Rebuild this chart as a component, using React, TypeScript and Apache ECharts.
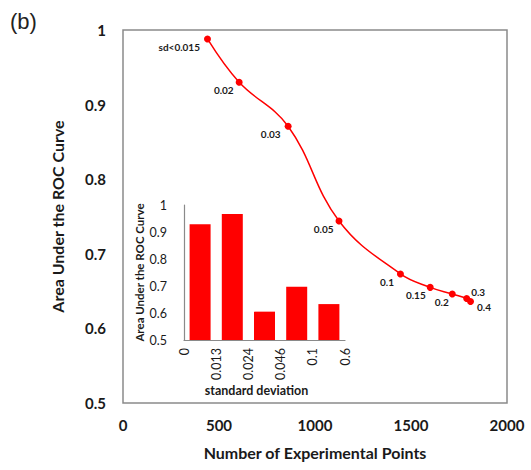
import React, { useEffect, useRef } from "react";
import * as echarts from "echarts";

// Main chart: number of experimental points vs AUC
const pointsX = [440, 605, 860, 1125, 1445, 1600, 1715, 1790, 1810];
const aucValues = [0.988, 0.930, 0.871, 0.744, 0.673, 0.655, 0.646, 0.640, 0.636];
const pointLabels = ["sd<0.015", "0.02", "0.03", "0.05", "0.1", "0.15", "0.2", "0.3", "0.4"];

// Inset: AUC by standard deviation range
const insetTickLabels = ["0", "0.013", "0.024", "0.046", "0.1", "0.6"];
const insetBarValues = [0.929, 0.967, 0.605, 0.697, 0.633];

const FONT = "Lato";
const TEXT = "#1a1a1a";
const AXIS = "#8a8a8a";

export default function App() {
  const ref = useRef<HTMLDivElement>(null);
  useEffect(() => {
    if (!ref.current) return;
    const chart = echarts.init(ref.current, undefined, { renderer: "svg" });

    const lineData = pointsX.map((x, i) => {
      let label: any;
      if (i === pointsX.length - 2) {
        label = { position: "right", distance: 1, offset: [0, -7] };
      } else if (i === pointsX.length - 1) {
        label = { position: "right", distance: 3, offset: [0, 5] };
      } else {
        const dist = [4, 2, 4, 2, 3, 1, 0][i];
        label = { position: "left", distance: dist, offset: [0, 8] };
      }
      return {
        value: [x, aucValues[i]],
        label: { show: true, formatter: pointLabels[i], ...label },
      };
    });

    const barData = insetBarValues.map((v, i) => [i + 0.5, v]);

    chart.setOption({
      animation: false,
      backgroundColor: "#ffffff",
      textStyle: { fontFamily: FONT },
      graphic: [
        {
          type: "text",
          left: 10,
          top: 10,
          style: {
            text: "(b)",
            fontFamily: "Liberation Sans",
            fontSize: 22,
            fill: "#222",
          },
        },
      ],
      grid: [
        {
          left: 123,
          right: 24,
          top: 30,
          bottom: 67,
          show: true,
          borderColor: AXIS,
          borderWidth: 1.5,
          backgroundColor: "transparent",
        },
        { left: 184, right: 186, top: 205, bottom: 130 },
      ],
      xAxis: [
        {
          gridIndex: 0,
          type: "value",
          min: 0,
          max: 2000,
          interval: 500,
          axisLine: { show: false },
          axisTick: { show: false },
          splitLine: { show: false },
          axisLabel: {
            margin: 14,
            fontSize: 15,
            fontWeight: "bold",
            color: TEXT,
            fontFamily: FONT,
            formatter: (v: number) => String(v),
          },
          name: "Number of Experimental Points",
          nameLocation: "middle",
          nameGap: 41,
          nameTextStyle: { fontSize: 16, fontWeight: "bold", color: TEXT, fontFamily: FONT },
        },
        {
          gridIndex: 1,
          type: "value",
          min: 0,
          max: 5,
          interval: 1,
          axisLine: { show: true, lineStyle: { color: AXIS, width: 1.2 } },
          axisTick: { show: false },
          splitLine: { show: false },
          axisLabel: {
            rotate: 90,
            margin: 8,
            fontSize: 12.5,
            color: TEXT,
            fontFamily: FONT,
            formatter: (v: number) => insetTickLabels[Math.round(v)] ?? "",
          },
          name: "standard deviation",
          nameLocation: "middle",
          nameGap: 42,
          nameTextStyle: {
            fontSize: 12.5,
            fontWeight: "bold",
            color: TEXT,
            fontFamily: FONT,
            padding: [0, 16, 0, 0],
          },
        },
      ],
      yAxis: [
        {
          gridIndex: 0,
          type: "value",
          min: 0.5,
          max: 1,
          interval: 0.1,
          axisLine: { show: false },
          axisTick: { show: false },
          splitLine: { show: false },
          axisLabel: {
            margin: 17,
            fontSize: 15,
            fontWeight: "bold",
            color: TEXT,
            fontFamily: FONT,
          },
          name: "Area Under the ROC Curve",
          nameLocation: "middle",
          nameGap: 58,
          nameTextStyle: { fontSize: 16, fontWeight: "bold", color: TEXT, fontFamily: FONT },
        },
        {
          gridIndex: 1,
          type: "value",
          min: 0.5,
          max: 1,
          interval: 0.1,
          axisLine: { show: true, lineStyle: { color: AXIS, width: 1.2 } },
          axisTick: { show: false },
          splitLine: { show: false },
          axisLabel: {
            margin: 17,
            fontSize: 12.5,
            color: TEXT,
            fontFamily: FONT,
          },
          name: "Area Under the ROC Curve",
          nameLocation: "middle",
          nameGap: 35,
          nameTextStyle: { fontSize: 11.5, fontWeight: "bold", color: TEXT, fontFamily: FONT },
        },
      ],
      series: [
        {
          type: "line",
          xAxisIndex: 0,
          yAxisIndex: 0,
          data: lineData,
          smooth: 0.4,
          symbol: "circle",
          symbolSize: 7,
          itemStyle: { color: "#ff0000" },
          lineStyle: { color: "#ff0000", width: 1.5 },
          label: {
            fontSize: 10,
            fontWeight: "bold",
            color: TEXT,
            fontFamily: FONT,
          },
          z: 3,
        },
        {
          type: "bar",
          xAxisIndex: 1,
          yAxisIndex: 1,
          data: barData,
          barWidth: 21,
          itemStyle: { color: "#ff0000" },
          clip: true,
        },
      ],
    });
    return () => chart.dispose();
  }, []);

  return (
    <div
      ref={ref}
      style={{ position: "absolute", left: 0, top: 0, width: 531, height: 470 }}
    />
  );
}
